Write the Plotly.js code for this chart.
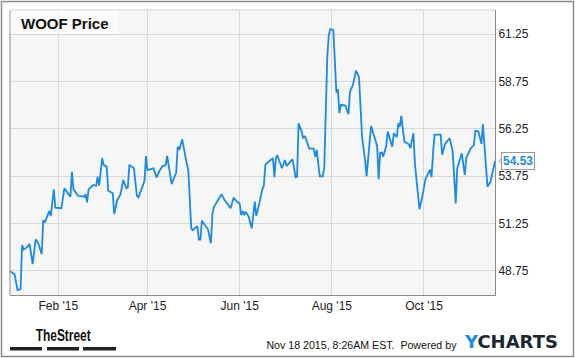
<!DOCTYPE html>
<html>
<head>
<meta charset="utf-8">
<script src="https://cdn.plot.ly/plotly-3.0.1.min.js"></script>
<style>html,body{margin:0;padding:0;background:#fff;}#chart{width:575px;height:358px;}</style>
</head>
<body>
<div id="chart"></div>
<script>
// WOOF closing prices
const dates = [
 '2014-12-31','2015-01-03','2015-01-05','2015-01-07','2015-01-08','2015-01-09','2015-01-11','2015-01-13','2015-01-15','2015-01-17',
 '2015-01-19','2015-01-21','2015-01-22','2015-01-23','2015-01-26','2015-01-27','2015-01-29','2015-01-30','2015-02-03','2015-02-05',
 '2015-02-09','2015-02-10','2015-02-11','2015-02-14','2015-02-18','2015-02-19','2015-02-20','2015-02-21','2015-02-24','2015-02-26',
 '2015-02-27','2015-02-28','2015-03-02','2015-03-03','2015-03-05','2015-03-06','2015-03-09','2015-03-10','2015-03-12','2015-03-14',
 '2015-03-16','2015-03-18','2015-03-19','2015-03-20','2015-03-23','2015-03-25','2015-03-26','2015-03-28','2015-03-30','2015-03-31',
 '2015-04-01','2015-04-05','2015-04-07','2015-04-09','2015-04-11','2015-04-13','2015-04-14','2015-04-17','2015-04-20','2015-04-21',
 '2015-04-22','2015-04-24','2015-04-25','2015-04-27','2015-04-28','2015-04-30','2015-05-01','2015-05-04','2015-05-05','2015-05-06',
 '2015-05-07','2015-05-09','2015-05-11','2015-05-13','2015-05-14','2015-05-15','2015-05-17','2015-05-20','2015-05-22','2015-05-26',
 '2015-05-28','2015-05-30','2015-06-01','2015-06-02','2015-06-03','2015-06-04','2015-06-05','2015-06-07','2015-06-08','2015-06-09',
 '2015-06-11','2015-06-12','2015-06-14','2015-06-16','2015-06-17','2015-06-18','2015-06-20','2015-06-23','2015-06-24','2015-06-25',
 '2015-06-26','2015-06-29','2015-07-01','2015-07-02','2015-07-06','2015-07-08','2015-07-09','2015-07-10','2015-07-12','2015-07-13',
 '2015-07-14','2015-07-15','2015-07-17','2015-07-20','2015-07-21','2015-07-22','2015-07-24','2015-07-26','2015-07-27','2015-07-29',
 '2015-07-30','2015-07-31','2015-08-02','2015-08-04','2015-08-05','2015-08-06','2015-08-07','2015-08-10','2015-08-12','2015-08-13',
 '2015-08-15','2015-08-16','2015-08-17','2015-08-19','2015-08-21','2015-08-23','2015-08-24','2015-08-27','2015-08-29','2015-08-31',
 '2015-09-01','2015-09-02','2015-09-03','2015-09-04','2015-09-06','2015-09-07','2015-09-10','2015-09-11','2015-09-13','2015-09-14',
 '2015-09-15','2015-09-16','2015-09-18','2015-09-21','2015-09-22','2015-09-24','2015-09-25','2015-09-27','2015-09-28','2015-09-30',
 '2015-10-02','2015-10-05','2015-10-06','2015-10-07','2015-10-08','2015-10-12','2015-10-13','2015-10-15','2015-10-18','2015-10-20',
 '2015-10-22','2015-10-23','2015-10-26','2015-10-28','2015-10-29','2015-11-01','2015-11-03','2015-11-04','2015-11-06','2015-11-08',
 '2015-11-09','2015-11-12','2015-11-14','2015-11-15','2015-11-17'
];
const prices = [
 48.73,48.57,47.73,47.78,50.11,49.88,49.97,50.16,49.10,50.41,
 50.15,49.62,51.43,51.29,51.90,51.64,53.05,52.08,52.05,53.10,
 52.66,53.97,53.05,52.71,52.66,52.79,52.36,53.05,53.28,53.23,
 53.72,53.24,54.69,54.34,54.25,52.98,52.84,51.75,52.49,52.75,
 53.54,53.10,53.16,54.34,54.16,52.71,52.63,53.10,53.49,54.81,
 54.07,54.16,53.67,54.03,54.28,54.32,54.81,53.33,53.93,55.30,
 55.13,55.69,55.22,54.40,54.07,50.97,50.90,51.10,50.39,50.39,
 51.39,51.17,50.94,50.20,51.78,52.13,52.40,52.79,52.49,52.05,
 52.61,52.40,52.31,51.69,51.90,51.69,51.87,51.60,51.29,50.99,
 52.40,51.64,52.31,53.05,53.23,54.34,54.51,54.69,53.69,54.74,
 54.83,54.16,54.60,54.28,54.64,53.69,53.72,56.54,56.10,55.75,
 55.87,55.69,55.20,55.20,54.76,55.13,53.74,53.74,54.20,60.06,
 61.21,61.51,61.47,58.16,58.34,57.07,57.51,57.47,57.02,58.21,
 58.56,58.97,59.32,58.97,55.83,54.60,53.75,56.40,55.87,55.34,
 53.58,54.99,54.99,54.78,55.34,56.10,55.30,56.01,55.80,56.54,
 56.36,56.93,55.57,55.43,55.22,56.01,54.40,52.49,52.00,52.72,
 53.60,54.09,53.70,54.99,55.94,55.94,54.88,55.46,55.75,55.04,
 52.31,54.16,54.95,53.81,54.72,55.22,55.39,56.15,56.10,55.45,
 56.49,53.19,53.45,53.81,54.53
];
const xTickVals = ['2015-02-01','2015-04-01','2015-06-01','2015-08-01','2015-10-01'];
const xTickText = ["Feb '15","Apr '15","Jun '15","Aug '15","Oct '15"];
const yTickVals = [48.75, 51.25, 53.75, 56.25, 58.75, 61.25];
const yTickText = ['48.75','51.25','53.75','56.25','58.75','61.25'];
const lastPrice = prices[prices.length - 1];

const BLUE = '#1b8ae6';
const FONT = 'Liberation Sans, Arial, sans-serif';

const trace = {
  x: dates, y: prices, type: 'scatter', mode: 'lines',
  line: {color: BLUE, width: 1.8}, hoverinfo: 'skip'
};

const layout = {
  width: 575, height: 358,
  margin: {l: 10, r: 80, t: 10, b: 63, pad: 0},
  paper_bgcolor: '#ffffff', plot_bgcolor: '#f6f6f6',
  showlegend: false,
  title: {text: '<b>WOOF Price</b>', x: 21/575, xanchor: 'left', xref: 'container',
          y: 1 - 24/358, yanchor: 'middle', yref: 'container',
          font: {family: FONT, size: 15, color: '#111'}},
  xaxis: {type: 'date', range: ['2014-12-31', '2015-11-17'],
          tickvals: xTickVals, ticktext: xTickText, ticks: '',
          showgrid: true, gridcolor: '#d8d8d8', gridwidth: 1,
          showline: true, linecolor: '#8c8c8c', linewidth: 1, zeroline: false,
          tickfont: {family: FONT, size: 12, color: '#222'}, fixedrange: true},
  yaxis: {side: 'right', range: [47.47, 62.52],
          tickvals: yTickVals, ticktext: yTickText, ticks: '',
          showgrid: true, gridcolor: '#d8d8d8', gridwidth: 1,
          showline: true, linecolor: '#8c8c8c', linewidth: 1, zeroline: false,
          tickfont: {family: FONT, size: 12, color: '#222'}, fixedrange: true},
  shapes: [
    {type: 'line', xref: 'paper', yref: 'paper', x0: 0, x1: 0, y0: 0, y1: 1,
     line: {color: '#8c8c8c', width: 1}},
    {type: 'line', xref: 'paper', yref: 'paper', x0: 0, x1: 1, y0: 1, y1: 1,
     line: {color: '#d0d0d0', width: 1}},
    {type: 'rect', xref: 'paper', yref: 'paper', x0: 0.001, x1: (118-10)/485, y0: (295-34)/285, y1: 0.998,
     fillcolor: 'rgba(255,255,255,0.55)', line: {width: 0}, layer: 'above'},
    {type: 'rect', xref: 'paper', yref: 'paper', x0: (1.5-10)/485, x1: (573.5-10)/485,
     y0: (295-356.5)/285, y1: (295-1.5)/285, line: {color: '#8a8a8a', width: 1.5}, fillcolor: 'rgba(0,0,0,0)'},
    {type: 'rect', xref: 'paper', yref: 'paper', x0: 0, x1: 32/485, y0: (295-350.5)/285, y1: (295-347)/285,
     fillcolor: '#222', line: {width: 0}},
    {type: 'rect', xref: 'paper', yref: 'paper', x0: 37/485, x1: 69/485, y0: (295-350.5)/285, y1: (295-347)/285,
     fillcolor: '#222', line: {width: 0}},
    {type: 'rect', xref: 'paper', yref: 'paper', x0: 73/485, x1: 106/485, y0: (295-350.5)/285, y1: (295-347)/285,
     fillcolor: '#222', line: {width: 0}},
    {type: 'path', xref: 'paper', yref: 'y', xsizemode: 'pixel', ysizemode: 'pixel',
     xanchor: 1, yanchor: lastPrice, path: 'M 4 0 L 8 4 L 8 -4 Z',
     fillcolor: '#ffffff', line: {color: '#999', width: 1}}
  ],
  annotations: [
    {x: 1, xref: 'paper', xanchor: 'left', xshift: 6, y: lastPrice, yref: 'y', yanchor: 'middle',
     text: '<b>' + lastPrice.toFixed(2) + '</b>', showarrow: false,
     font: {family: FONT, size: 12, color: BLUE}, bgcolor: '#ffffff', bordercolor: '#999', borderwidth: 1, borderpad: 1},
    {x: (63.5-10)/485, xref: 'paper', xanchor: 'center', y: (295-335)/285, yref: 'paper', yanchor: 'middle',
     text: '<b>TheStreet</b>', showarrow: false,
     font: {family: FONT, size: 17, color: '#111'}},
    {x: (361.5-10)/485, xref: 'paper', xanchor: 'center', y: (295-345)/285, yref: 'paper', yanchor: 'middle',
     text: 'Nov 18 2015, 8:26AM EST.  Powered by', showarrow: false, borderpad: 0, borderwidth: 0,
     font: {family: FONT, size: 11, color: '#111'}},
    {x: (464-10)/485, xref: 'paper', xanchor: 'left', y: (295-341.5)/285, yref: 'paper', yanchor: 'middle',
     text: '<b><span style="color:' + BLUE + '">Y</span>CHARTS</b>', showarrow: false, borderpad: 0, borderwidth: 0,
     font: {family: 'DejaVu Sans, sans-serif', size: 18, color: '#1c2733'}}
  ]
};

Plotly.newPlot('chart', [trace], layout, {displayModeBar: false, staticPlot: true}).then(function (gd) {
  // condense footer texts to the widths seen in the reference
  const widths = {1: 55, 2: 190};
  const texts = gd.querySelectorAll('.annotation-text');
  Object.keys(widths).forEach(function (i) {
    const t = texts[i];
    if (t) {
      t.setAttribute('textLength', widths[i]);
      t.setAttribute('lengthAdjust', 'spacingAndGlyphs');
    }
  });
});
</script>
</body>
</html>
